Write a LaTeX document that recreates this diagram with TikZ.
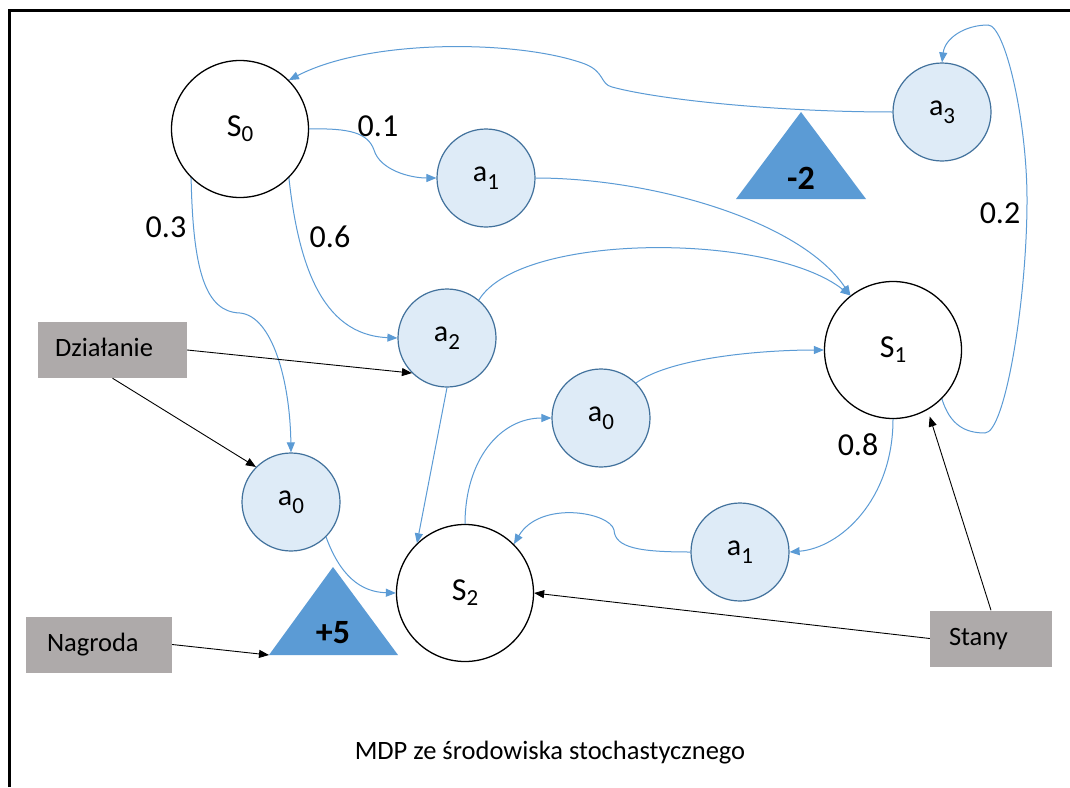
\documentclass[tikz,border=0pt]{standalone}
\usepackage{fontspec}
\setmainfont{Carlito}
\usetikzlibrary{arrows.meta}
\definecolor{edgeblue}{HTML}{5B9BD5}
\definecolor{actfill}{HTML}{DEEBF7}
\definecolor{actborder}{HTML}{41719C}
\definecolor{trifill}{HTML}{5B9BD5}
\definecolor{boxgrey}{HTML}{AEAAAA}
\newcommand\mysubS[1]{\raisebox{-5pt}{\fontsize{23}{26}\selectfont #1}}
\newcommand\mysubA[1]{\raisebox{-8pt}{\fontsize{23}{26}\selectfont #1}}
\begin{document}
\begin{tikzpicture}[x=1pt,y=-1pt,
  statenode/.style={circle,draw=black,line width=1.3pt,fill=white,minimum size=137pt,inner sep=0pt,font=\fontsize{32}{36}\selectfont},
  actnode/.style={circle,draw=actborder,line width=1.2pt,fill=actfill,minimum size=98pt,inner sep=0pt,font=\fontsize{30}{34}\selectfont},
  greybox/.style={rectangle,fill=boxgrey,inner ysep=0pt,minimum height=56pt,align=left,text height=18pt,text depth=5pt,font=\fontsize{26.5}{30}\selectfont},
  blueedge/.style={draw=edgeblue,line width=1pt,-{Triangle[length=10pt,width=8pt]}},
  blackedge/.style={draw=black,line width=0.9pt,-{Triangle[length=10pt,width=8pt]}},
  problabel/.style={font=\fontsize{32}{36}\selectfont,inner sep=0pt},
  rewardlabel/.style={font=\bfseries\fontsize{34}{38}\selectfont,inner sep=0pt}
]
\useasboundingbox (0,0) rectangle (1070,787);
\fill[white] (0,0) rectangle (1070,787);
\draw[line width=3.5pt,line join=miter] (9.5,787) -- (9.5,10.5) -- (1070,10.5);

% reward triangles
\coordinate (tmA) at (801,112); \coordinate (tmL) at (736,199); \coordinate (tmR) at (866,199);
\fill[trifill] (tmA) -- (tmL) -- (tmR) -- cycle;
\node[rewardlabel] (rm2) at (801,178) {-2};
\coordinate (tpA) at (333,567); \coordinate (tpL) at (269,655); \coordinate (tpR) at (398,655);
\fill[trifill] (tpA) -- (tpL) -- (tpR) -- cycle;
\node[rewardlabel] (rp5) at (333,633) {+5};

% states
\node[statenode] (S0) at (240,129) {S\mysubS{0}};
\node[statenode] (S1) at (893,350) {S\mysubS{1}};
\node[statenode] (S2) at (465,593) {S\mysubS{2}};

% actions
\node[actnode] (a1t) at (486,178) {a\mysubA{1}};
\node[actnode] (a2) at (447,338) {a\mysubA{2}};
\node[actnode] (a3) at (942,112) {a\mysubA{3}};
\node[actnode] (a0m) at (601,418) {a\mysubA{0}};
\node[actnode] (a0l) at (291,502) {a\mysubA{0}};
\node[actnode] (a1b) at (740,552) {a\mysubA{1}};

% grey boxes
\node[greybox,inner xsep=17pt,text width=115pt] (dz) at (112.5,350) {Działanie};
\node[greybox,inner xsep=21pt,text width=104pt] (ng) at (99,644.5) {Nagroda};
\node[greybox,inner xsep=19pt,text width=84pt] (st) at (991,638.5) {Stany};

% blue transitions
\draw[blueedge] (a3.west) .. controls (780,112) and (660,100) .. (612,87)
  .. controls (600,84) and (605,72) .. (585,64)
  .. controls (520,40) and (370,38) .. (S0.45);
\draw[blueedge] (S0.east) .. controls (350,128) and (368,133) .. (374,150)
  .. controls (380,170) and (410,178) .. (a1t.west);
\draw[blueedge] (S0.-45) .. controls (298,260) and (320,335) .. (a2.west);
\draw[blueedge] (S0.-135) .. controls (193,270) and (205,312) .. (240,313)
  .. controls (272,316) and (290,380) .. (a0l.north);
\draw[blueedge] (a0l.-45) .. controls (340,575) and (360,592) .. (S2.west);
\draw[blueedge] (a2.south) -- (S2.134);
\draw[blueedge] (S2.north) .. controls (465,460) and (500,418) .. (a0m.west);
\draw[blueedge] (a0m.45) .. controls (670,358) and (760,350) .. (S1.west);
\draw[blueedge] (a1t.east) .. controls (650,178) and (800,220) .. (S1.128);
\draw[blueedge] (a2.50) .. controls (520,232) and (770,232) .. (S1.128);
\draw[blueedge] (S1.south) .. controls (893,500) and (840,548) .. (a1b.east);
\draw[blueedge] (a1b.west) .. controls (640,552) and (615,548) .. (614,530)
  .. controls (610,512) and (540,500) .. (S2.45);
\draw[blueedge] (S1.-45) .. controls (950,425) and (965,433) .. (985,433)
  .. controls (1005,433) and (1027,300) .. (1027,200)
  .. controls (1027,120) and (1005,25) .. (988,25)
  .. controls (965,25) and (945,38) .. (a3.north);

% black pointers
\draw[blackedge] (dz.east) -- (a2.-135);
\draw[blackedge] (dz.south) -- (a0l.135);
\draw[blackedge] (ng.east) -- (tpL);
\draw[blackedge,shorten >=7pt] (st.north) -- (S1.-60);
\draw[blackedge] (st.west) -- (S2.east);

% probabilities
\node[problabel] (p01) at (378,126) {0.1};
\node[problabel] (p06) at (330,237) {0.6};
\node[problabel] (p03) at (166,227) {0.3};
\node[problabel] (p02) at (1000,213) {0.2};
\node[problabel] (p08) at (858,445) {0.8};

% caption
\node[font=\fontsize{26.5}{30}\selectfont] (cap) at (550,753) {MDP ze środowiska stochastycznego};
\end{tikzpicture}
\end{document}
